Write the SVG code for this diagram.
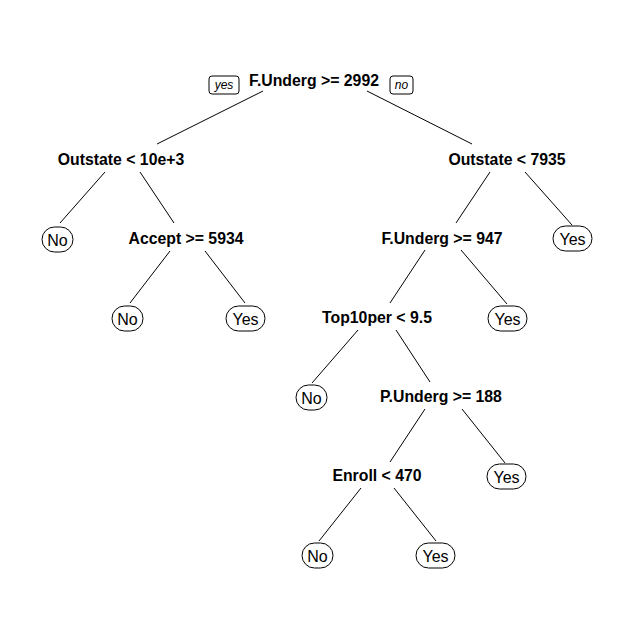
<svg xmlns="http://www.w3.org/2000/svg" width="634" height="633" viewBox="0 0 634 633">
<style>
.split{font-family:"Liberation Sans",Arial,sans-serif;font-weight:bold;font-size:15.8px;fill:#000;text-anchor:middle}
.leaf rect{fill:#fff;stroke:#000;stroke-width:1}
.leaf text{font-family:"Liberation Sans",Arial,sans-serif;font-size:16px;fill:#000;text-anchor:middle}
.yn rect{fill:#fff;stroke:#000;stroke-width:1}
.yn text{font-family:"Liberation Sans",Arial,sans-serif;font-style:italic;font-size:12px;fill:#000;text-anchor:middle}
#edges line{stroke:#000;stroke-width:1}
</style>
<rect width="634" height="633" fill="#fff"/>
<g id="edges">
<line x1="263" y1="91" x2="157" y2="144"/>
<line x1="367" y1="91" x2="472" y2="144"/>
<line x1="105" y1="172" x2="60" y2="223"/>
<line x1="140" y1="172" x2="174" y2="223"/>
<line x1="170" y1="251" x2="130" y2="303"/>
<line x1="205" y1="251" x2="245" y2="303"/>
<line x1="490" y1="172" x2="456" y2="223"/>
<line x1="525" y1="172" x2="572" y2="225"/>
<line x1="425" y1="250" x2="390" y2="303"/>
<line x1="461" y1="250" x2="507" y2="304"/>
<line x1="358" y1="330" x2="312" y2="383"/>
<line x1="396" y1="330" x2="430" y2="382"/>
<line x1="425" y1="409" x2="390" y2="462"/>
<line x1="462" y1="409" x2="505" y2="463"/>
<line x1="361" y1="488" x2="319" y2="541"/>
<line x1="394" y1="488" x2="436" y2="541"/>
</g>
<g id="yes" class="yn"><rect x="209" y="76" width="30" height="18" rx="3"/><text x="224" y="89">yes</text></g>
<g id="no" class="yn"><rect x="390" y="76" width="23" height="18" rx="3"/><text x="401.5" y="89">no</text></g>
<g id="n1"><text class="split" x="314" y="85.5">F.Underg &gt;= 2992</text></g>
<g id="n2"><text class="split" x="121" y="165">Outstate &lt; 10e+3</text></g>
<g id="n3"><text class="split" x="507" y="165">Outstate &lt; 7935</text></g>
<g id="n4" class="leaf"><rect x="42" y="227" width="31" height="25" rx="12.5"/><text x="57.5" y="245.5">No</text></g>
<g id="n5"><text class="split" x="186" y="244">Accept &gt;= 5934</text></g>
<g id="n6"><text class="split" x="442" y="244">F.Underg &gt;= 947</text></g>
<g id="n7" class="leaf"><rect x="553" y="226" width="39" height="25" rx="12.5"/><text x="572.5" y="245">Yes</text></g>
<g id="n10" class="leaf"><rect x="112" y="306" width="31" height="25" rx="12.5"/><text x="127.5" y="324.5">No</text></g>
<g id="n11" class="leaf"><rect x="226" y="306" width="39" height="25" rx="12.5"/><text x="245.5" y="324.5">Yes</text></g>
<g id="n12"><text class="split" x="377" y="323">Top10per &lt; 9.5</text></g>
<g id="n13" class="leaf"><rect x="488" y="306" width="39" height="25" rx="12.5"/><text x="507.5" y="324.5">Yes</text></g>
<g id="n24" class="leaf"><rect x="296" y="385" width="31" height="25" rx="12.5"/><text x="311.5" y="403.5">No</text></g>
<g id="n25"><text class="split" x="441" y="402">P.Underg &gt;= 188</text></g>
<g id="n50"><text class="split" x="377" y="481">Enroll &lt; 470</text></g>
<g id="n51" class="leaf"><rect x="487" y="464" width="39" height="25" rx="12.5"/><text x="506.5" y="482.5">Yes</text></g>
<g id="n100" class="leaf"><rect x="302" y="543" width="31" height="25" rx="12.5"/><text x="317.5" y="561.5">No</text></g>
<g id="n101" class="leaf"><rect x="416" y="543" width="39" height="25" rx="12.5"/><text x="435.5" y="561.5">Yes</text></g>
</svg>
